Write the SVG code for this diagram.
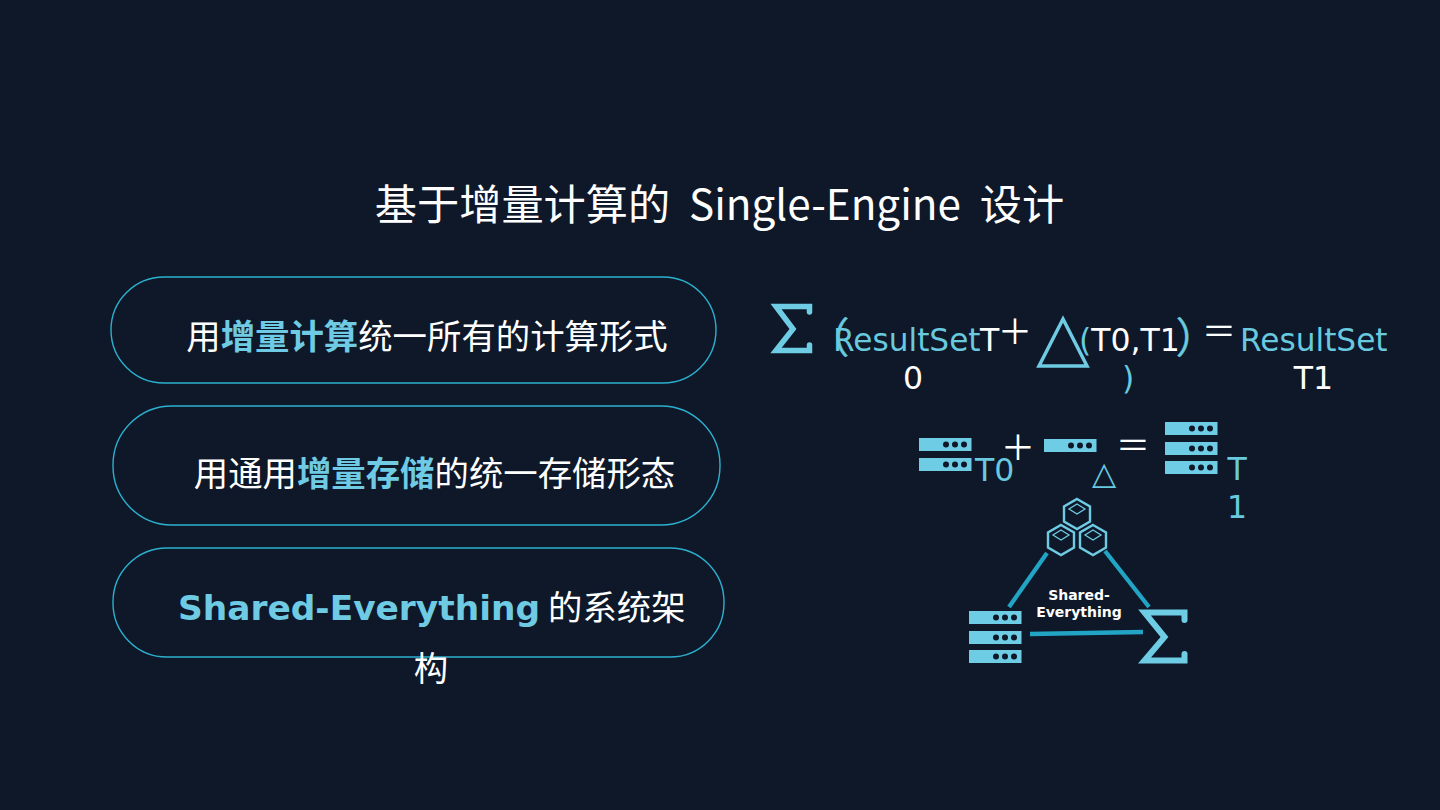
<svg xmlns="http://www.w3.org/2000/svg" width="1440" height="810" viewBox="0 0 1440 810">
<style>
.z{font-family:"DejaVu Sans","Noto Sans CJK SC",sans-serif}
.c{font-family:"Noto Sans CJK SC",sans-serif}
.w{fill:#fff}.b{fill:#68c9df}
.h{font-weight:700;fill:#6ecbe3}
.pill{fill:none;stroke:#2cb0cf;stroke-width:1.4}
.bar{fill:#6ecde5}.dot{fill:#0e1829}
.line{stroke:#22a5c5;stroke-width:4.300;fill:none}
.sig{fill:none;stroke:#6ecde5;stroke-linejoin:miter;stroke-linecap:round}
.hex{fill:none;stroke:#6ecbe3;stroke-width:2.4}
.hexi{fill:none;stroke:#6ecbe3;stroke-width:1.3}
.par{stroke:#68c9df;stroke-width:.3}
</style>
<defs>
<g id="srv"><rect class="bar" width="52.500" height="13"/><circle class="dot" cx="27" cy="6.500" r="3"/><circle class="dot" cx="36" cy="6.500" r="3"/><circle class="dot" cx="45" cy="6.500" r="3"/></g>
<g id="hx"><path class="hex" d="M14 0 27 7.500V22.500L14 30 1 22.500V7.500Z"/><path class="hexi" d="M14 5 22 10 14 15 6 10Z"/></g>
</defs>
<rect width="1440" height="810" fill="#0e1829"/>
<text id="title" class="c w" x="719.500" y="220" font-size="42.200" text-anchor="middle" xml:space="preserve">基于增量计算的  Single-Engine  设计</text>
<g id="pill1"><rect class="pill" x="111" y="277" width="605" height="106" rx="53"/><text class="z w" x="427" y="349" font-size="34.400" text-anchor="middle">用<tspan class="h">增量计算</tspan>统一所有的计算形式</text></g>
<g id="pill2"><rect class="pill" x="113" y="406" width="607" height="119" rx="59"/><text class="z w" x="434.500" y="486" font-size="34.400" text-anchor="middle">用通用<tspan class="h">增量存储</tspan>的统一存储形态</text></g>
<g id="pill3"><rect class="pill" x="113" y="548" width="611" height="109" rx="54"/><text class="z w" y="620" font-size="34.400"><tspan class="h" x="178">Shared-Everything</tspan><tspan x="548">的系统架</tspan></text><text class="z w" x="431" y="681" font-size="34.400" text-anchor="middle">构</text></g>
<g id="formula1">
<path class="sig" d="M809.500 312V306.500H776L793 329 776 350.500H809.500V345" stroke-width="5.500"/>
<text class="c b par" x="807.500" y="352.500" font-size="42">（</text>
<text class="z b" x="833" y="351" font-size="31.200">ResultSet</text>
<text class="z w" x="980" y="351" font-size="31.500">T</text>
<text class="z w" x="913" y="389" font-size="31.500" text-anchor="middle">0</text>
<text class="c w" x="1015" y="344" font-size="34.400" text-anchor="middle">＋</text>
<path d="M1063 319 1087 366H1039Z" fill="none" stroke="#6ecbe3" stroke-width="3.500"/>
<text class="z w" x="1079" y="351" font-size="31.500"><tspan class="b">(</tspan>T0,T1</text>
<text class="z b" x="1122" y="389" font-size="31.500">)</text>
<text class="c b par" x="1175.500" y="352.500" font-size="42">）</text>
<text class="c w" x="1219" y="344" font-size="34.400" text-anchor="middle">＝</text>
<text class="z b" x="1240" y="351" font-size="31.200">ResultSet</text>
<text class="z w" x="1313.500" y="389" font-size="31.500" text-anchor="middle">T1</text>
</g>
<g id="formula2">
<use href="#srv" x="919" y="438"/><use href="#srv" x="919" y="458"/>
<text class="z b" x="975" y="481" font-size="31.500">T0</text>
<text class="c w" x="1018" y="460" font-size="34.400" text-anchor="middle">＋</text>
<use href="#srv" x="1044" y="439"/>
<text class="z b" x="1104" y="484" font-size="31.500" text-anchor="middle">△</text>
<text class="c w" x="1133" y="458" font-size="34.400" text-anchor="middle">＝</text>
<use href="#srv" x="1165" y="422"/><use href="#srv" x="1165" y="442"/><use href="#srv" x="1165" y="461"/>
<text class="z b" x="1237" y="480" font-size="31.500" text-anchor="middle">T</text>
<text class="z b" x="1237" y="518" font-size="31.500" text-anchor="middle">1</text>
</g>
<g id="connectors">
<path class="line" d="M1047 553 1009 607"/><path class="line" d="M1105 551 1149 607"/><path class="line" d="M1030 634 1143 632"/>
</g>
<g id="triangle">
<use href="#hx" x="1063" y="499"/><use href="#hx" x="1047" y="525"/><use href="#hx" x="1079" y="525"/>
<use href="#srv" x="969" y="611"/><use href="#srv" x="969" y="631"/><use href="#srv" x="969" y="650"/>
<path class="sig" d="M1184.500 620V612.500H1144.500L1164.500 637 1144.500 660.500H1184.500V654" stroke-width="6"/>
<text class="z w" font-size="14" font-weight="700" text-anchor="middle"><tspan x="1079" y="600">Shared-</tspan><tspan x="1079" y="617">Everything</tspan></text>
</g>
</svg>
